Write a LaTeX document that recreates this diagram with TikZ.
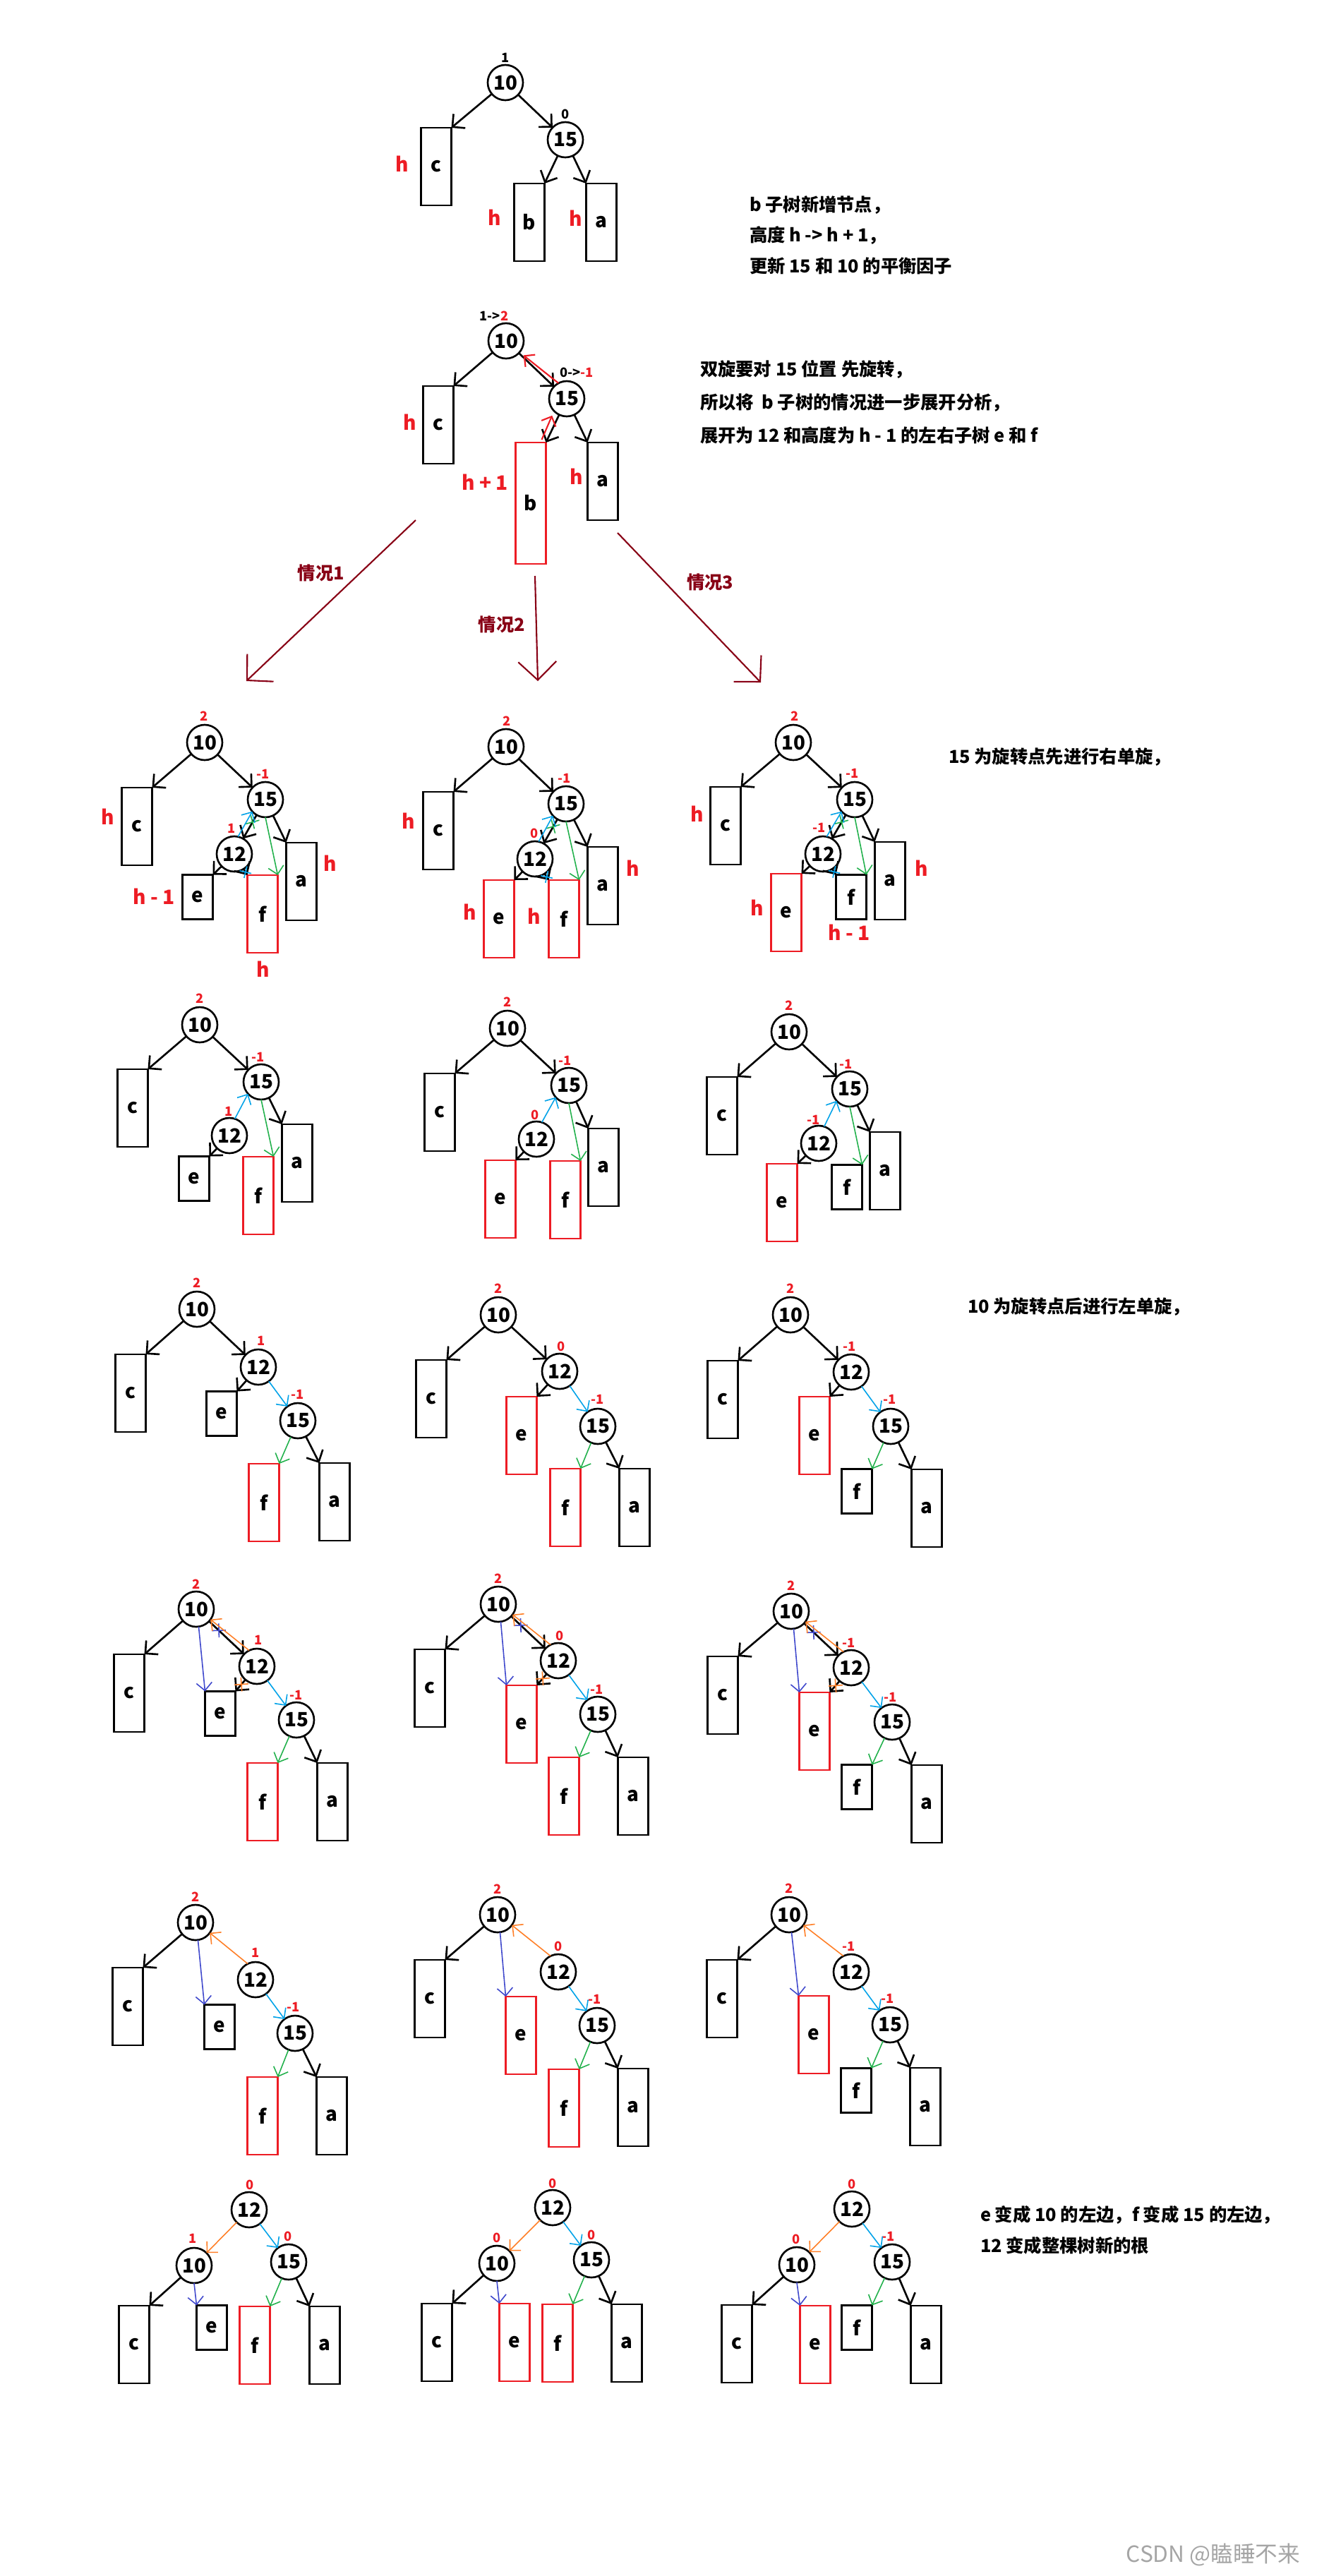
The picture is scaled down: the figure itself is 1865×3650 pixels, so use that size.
\documentclass[tikz,border=0pt]{standalone}
\usepackage{fontspec}
\setmainfont{Noto Sans CJK SC}
\usetikzlibrary{arrows.meta,calc,shapes.misc}

\definecolor{avlred}{RGB}{237,28,36}
\definecolor{avlblue}{RGB}{0,162,232}
\definecolor{avlgreen}{RGB}{34,177,76}
\definecolor{avlorange}{RGB}{255,127,39}
\definecolor{avlindigo}{RGB}{63,72,204}
\definecolor{avlcase}{RGB}{136,0,21}
\definecolor{avlgray}{RGB}{165,165,165}

\begin{document}
\begin{tikzpicture}[
  x=0.1mm,
  y=-0.1mm,
  every node/.style={inner sep=0pt, outer sep=0pt},
  vertex/.style={circle, draw=black, line width=0.75pt, minimum size=5mm, font=\fontsize{7.9}{8}\selectfont\bfseries},
  tallbox/.style={draw=black, line width=0.75pt, minimum width=4.3mm, minimum height=11mm, font=\fontsize{7.9}{8}\selectfont\bfseries},
  shortbox/.style={tallbox, minimum height=6.3mm},
  grown/.style={draw=avlred},
  bfac/.style={font=\fontsize{5.2}{5.5}\selectfont\bfseries, text=avlred},
  hlabel/.style={font=\fontsize{8}{9}\selectfont\bfseries, text=avlred},
  note/.style={font=\fontsize{7.2}{12.4}\selectfont\bfseries, align=left, anchor=west},
  link/.style={draw=black, line width=0.75pt, -{Straight Barb[length=1.3mm, width=2.6mm]}},
  move/.style={line width=0.45pt, -{Straight Barb[length=1.1mm, width=2.2mm]}},
  redmove/.style={move, draw=avlred, line width=0.6pt, shorten >=0.7mm},
  bluemove/.style={move, draw=avlblue},
  greenmove/.style={move, draw=avlgreen},
  orangemove/.style={move, draw=avlorange},
  indigomove/.style={move, draw=avlindigo},
  cutgreen/.style={cross out, draw=avlgreen, line width=0.45pt, minimum size=1.4mm, sloped},
  cutblue/.style={cross out, draw=avlblue, line width=0.45pt, minimum size=1.2mm, sloped},
  cutorange/.style={cross out, draw=avlorange, line width=0.45pt, minimum size=1.4mm, sloped},
  cutindigo/.style={cross out, draw=avlindigo, line width=0.45pt, minimum size=1.4mm, sloped},
  casearrow/.style={draw=avlcase, line width=0.6pt, -{Straight Barb[length=2.6mm, width=5.4mm]}},
  caselabel/.style={font=\fontsize{7.2}{8}\selectfont\bfseries, text=avlcase}
]

  \path[use as bounding box] (0,0) rectangle (1865,3650);

  % Tree 1: b gets a new node
  \node[vertex] (t1-10) at (716,117) {10};
  \node[vertex] (t1-15) at (801,198) {15};
  \node[tallbox] (t1-c) at (618,236) {c};
  \node[tallbox] (t1-b) at (750,315) {b};
  \node[tallbox] (t1-a) at (852,315) {a};
  \node[bfac, text=black] (t1-bf10) at (716,82) {1};
  \node[bfac, text=black] (t1-bf15) at (801,162) {0};
  \node[hlabel] (t1-hc) at (570,232) {h};
  \node[hlabel] (t1-hb) at (701,308) {h};
  \node[hlabel] (t1-ha) at (816,309) {h};
  \draw[link] (t1-10) -- (t1-c.north east);
  \draw[link] (t1-10) -- (t1-15);
  \draw[link] (t1-15) -- (t1-b.north east);
  \draw[link] (t1-15) -- (t1-a.north west);
  \node[note] (t1-note) at (1062,333) {b 子树新增节点，\\高度 h -> h + 1，\\更新 15 和 10 的平衡因子};

  % Tree 2: factors updated
  \node[vertex] (t2-10) at (717,483) {10};
  \node[vertex] (t2-15) at (803,565) {15};
  \node[tallbox] (t2-c) at (621,602) {c};
  \node[tallbox, grown, minimum height=17.2mm] (t2-b) at (752,713) {b};
  \node[tallbox] (t2-a) at (854,682) {a};
  \node[bfac, text=black] (t2-bf10) at (700,448) {1->\textcolor{avlred}{2}};
  \node[bfac, text=black] (t2-bf15) at (817,528) {0->\textcolor{avlred}{-1}};
  \node[hlabel] (t2-hc) at (581,598) {h};
  \node[hlabel] (t2-hb) at (687,683) {h + 1};
  \node[hlabel] (t2-ha) at (817,675) {h};
  \draw[link] (t2-10) -- (t2-c.north east);
  \draw[link] (t2-10) -- (t2-15);
  \draw[link] (t2-15) -- (t2-b.north east);
  \draw[link] (t2-15) -- (t2-a.north west);
  \draw[redmove] (t2-15.118) -- (t2-10.-40);
  \draw[redmove] ($(t2-b.north east)+(-6,-4)$) -- (t2-15.224);
  \node[note, font=\fontsize{7.2}{13.4}\selectfont\bfseries] (t2-note) at (992,570)
    {双旋要对 15 位置 先旋转，\\所以将 \ b 子树的情况进一步展开分析，\\展开为 12 和高度为 h - 1 的左右子树 e 和 f};

  % Three cases
  \coordinate (k1-from) at (589,737);
  \coordinate (k1-to) at (349,965);
  \coordinate (k2-from) at (758,816);
  \coordinate (k2-to) at (762,965);
  \coordinate (k3-from) at (875,755);
  \coordinate (k3-to) at (1078,967);
  \draw[casearrow] (k1-from) -- (k1-to);
  \draw[casearrow] (k2-from) -- (k2-to);
  \draw[casearrow] (k3-from) -- (k3-to);
  \node[caselabel] (k1-label) at (455,812) {情况1};
  \node[caselabel] (k2-label) at (711,885) {情况2};
  \node[caselabel] (k3-label) at (1006,825) {情况3};

  % Row 3, case 1
  \node[vertex] (r3a-10) at (290,1052) {10};
  \node[vertex] (r3a-15) at (376,1133) {15};
  \node[vertex] (r3a-12) at (332,1210) {12};
  \node[tallbox] (r3a-c) at (194,1171) {c};
  \node[shortbox] (r3a-e) at (280,1271) {e};
  \node[tallbox, grown] (r3a-f) at (372,1295) {f};
  \node[tallbox] (r3a-a) at (427,1249) {a};
  \node[bfac] (r3a-bf10) at (289,1015) {2};
  \node[bfac] (r3a-bf15) at (373,1097) {-1};
  \node[bfac] (r3a-bf12) at (328,1174) {1};
  \node[hlabel] (r3a-hc) at (153,1157) {h};
  \node[hlabel] (r3a-he) at (218,1270) {h - 1};
  \node[hlabel] (r3a-hf) at (373,1373) {h};
  \node[hlabel] (r3a-ha) at (468,1223) {h};
  \draw[link] (r3a-10) -- (r3a-c.north east);
  \draw[link] (r3a-10) -- (r3a-15);
  \draw[link] (r3a-15) -- node[pos=.3, cutgreen] (r3a-cut1) {} (r3a-12);
  \draw[link] (r3a-15) -- (r3a-a.north west);
  \draw[link] (r3a-12) -- (r3a-e.north east);
  \draw[link] (r3a-12) -- node[pos=.5, cutblue] (r3a-cut2) {} (r3a-f.north west);
  \draw[bluemove] (r3a-12.78) -- (r3a-15.222);
  \draw[greenmove] (r3a-15.south) -- (r3a-f.north east);

  % Row 3, case 2
  \node[vertex] (r3b-10) at (717,1058) {10};
  \node[vertex] (r3b-15) at (802,1139) {15};
  \node[vertex] (r3b-12) at (758,1217) {12};
  \node[tallbox] (r3b-c) at (621,1177) {c};
  \node[tallbox, grown] (r3b-e) at (707,1302) {e};
  \node[tallbox, grown] (r3b-f) at (799,1302) {f};
  \node[tallbox] (r3b-a) at (854,1255) {a};
  \node[bfac] (r3b-bf10) at (718,1022) {2};
  \node[bfac] (r3b-bf15) at (800,1103) {-1};
  \node[bfac] (r3b-bf12) at (757,1181) {0};
  \node[hlabel] (r3b-hc) at (579,1163) {h};
  \node[hlabel] (r3b-he) at (666,1292) {h};
  \node[hlabel] (r3b-hf) at (757,1298) {h};
  \node[hlabel] (r3b-ha) at (897,1230) {h};
  \draw[link] (r3b-10) -- (r3b-c.north east);
  \draw[link] (r3b-10) -- (r3b-15);
  \draw[link] (r3b-15) -- node[pos=.3, cutgreen] (r3b-cut1) {} (r3b-12);
  \draw[link] (r3b-15) -- (r3b-a.north west);
  \draw[link] (r3b-12) -- (r3b-e.north east);
  \draw[link] (r3b-12) -- node[pos=.5, cutblue] (r3b-cut2) {} (r3b-f.north west);
  \draw[bluemove] (r3b-12.78) -- (r3b-15.222);
  \draw[greenmove] (r3b-15.south) -- (r3b-f.north east);

  % Row 3, case 3
  \node[vertex] (r3c-10) at (1124,1052) {10};
  \node[vertex] (r3c-15) at (1211,1133) {15};
  \node[vertex] (r3c-12) at (1166,1210) {12};
  \node[tallbox] (r3c-c) at (1028,1170) {c};
  \node[tallbox, grown] (r3c-e) at (1114,1293) {e};
  \node[shortbox] (r3c-f) at (1206,1271) {f};
  \node[tallbox] (r3c-a) at (1261,1248) {a};
  \node[bfac] (r3c-bf10) at (1126,1015) {2};
  \node[bfac] (r3c-bf15) at (1208,1096) {-1};
  \node[bfac] (r3c-bf12) at (1161,1173) {-1};
  \node[hlabel] (r3c-hc) at (988,1153) {h};
  \node[hlabel] (r3c-he) at (1073,1286) {h};
  \node[hlabel] (r3c-hf) at (1203,1321) {h - 1};
  \node[hlabel] (r3c-ha) at (1306,1230) {h};
  \draw[link] (r3c-10) -- (r3c-c.north east);
  \draw[link] (r3c-10) -- (r3c-15);
  \draw[link] (r3c-15) -- node[pos=.3, cutgreen] (r3c-cut1) {} (r3c-12);
  \draw[link] (r3c-15) -- (r3c-a.north west);
  \draw[link] (r3c-12) -- (r3c-e.north east);
  \draw[link] (r3c-12) -- node[pos=.5, cutblue] (r3c-cut2) {} (r3c-f.north west);
  \draw[bluemove] (r3c-12.78) -- (r3c-15.222);
  \draw[greenmove] (r3c-15.south) -- (r3c-f.north east);
  \node[note] (r3-note) at (1344,1073) {15 为旋转点先进行右单旋，};

  % Row 4, case 1
  \node[vertex] (r4a-10) at (283,1452) {10};
  \node[vertex] (r4a-15) at (370,1533) {15};
  \node[vertex] (r4a-12) at (325,1609) {12};
  \node[tallbox] (r4a-c) at (188,1570) {c};
  \node[shortbox] (r4a-e) at (275,1670) {e};
  \node[tallbox, grown] (r4a-f) at (366,1694) {f};
  \node[tallbox] (r4a-a) at (421,1648) {a};
  \node[bfac] (r4a-bf10) at (283,1415) {2};
  \node[bfac] (r4a-bf15) at (366,1498) {-1};
  \node[bfac] (r4a-bf12) at (324,1575) {1};
  \draw[link] (r4a-10) -- (r4a-c.north east);
  \draw[link] (r4a-10) -- (r4a-15);
  \draw[link] (r4a-15) -- (r4a-a.north west);
  \draw[link] (r4a-12) -- (r4a-e.north east);
  \draw[bluemove] (r4a-12.72) -- (r4a-15.222);
  \draw[greenmove] (r4a-15.south) -- (r4a-f.north east);

  % Row 4, case 2
  \node[vertex] (r4b-10) at (719,1457) {10};
  \node[vertex] (r4b-15) at (806,1538) {15};
  \node[vertex] (r4b-12) at (760,1614) {12};
  \node[tallbox] (r4b-c) at (623,1576) {c};
  \node[tallbox, grown] (r4b-e) at (709,1699) {e};
  \node[tallbox, grown] (r4b-f) at (801,1700) {f};
  \node[tallbox] (r4b-a) at (855,1654) {a};
  \node[bfac] (r4b-bf10) at (719,1420) {2};
  \node[bfac] (r4b-bf15) at (801,1503) {-1};
  \node[bfac] (r4b-bf12) at (758,1580) {0};
  \draw[link] (r4b-10) -- (r4b-c.north east);
  \draw[link] (r4b-10) -- (r4b-15);
  \draw[link] (r4b-15) -- (r4b-a.north west);
  \draw[link] (r4b-12) -- (r4b-e.north east);
  \draw[bluemove] (r4b-12.72) -- (r4b-15.222);
  \draw[greenmove] (r4b-15.south) -- (r4b-f.north east);

  % Row 4, case 3
  \node[vertex] (r4c-10) at (1118,1462) {10};
  \node[vertex] (r4c-15) at (1204,1543) {15};
  \node[vertex] (r4c-12) at (1160,1620) {12};
  \node[tallbox] (r4c-c) at (1023,1581) {c};
  \node[tallbox, grown] (r4c-e) at (1108,1704) {e};
  \node[shortbox] (r4c-f) at (1200,1682) {f};
  \node[tallbox] (r4c-a) at (1254,1659) {a};
  \node[bfac] (r4c-bf10) at (1118,1425) {2};
  \node[bfac] (r4c-bf15) at (1199,1508) {-1};
  \node[bfac] (r4c-bf12) at (1153,1587) {-1};
  \draw[link] (r4c-10) -- (r4c-c.north east);
  \draw[link] (r4c-10) -- (r4c-15);
  \draw[link] (r4c-15) -- (r4c-a.north west);
  \draw[link] (r4c-12) -- (r4c-e.north east);
  \draw[bluemove] (r4c-12.72) -- (r4c-15.222);
  \draw[greenmove] (r4c-15.south) -- (r4c-f.north east);

  % Row 5, case 1
  \node[vertex] (r5a-10) at (279,1855) {10};
  \node[vertex] (r5a-12) at (366,1937) {12};
  \node[vertex] (r5a-15) at (422,2013) {15};
  \node[tallbox] (r5a-c) at (185,1974) {c};
  \node[shortbox] (r5a-e) at (314,2003) {e};
  \node[tallbox, grown] (r5a-f) at (374,2129) {f};
  \node[tallbox] (r5a-a) at (474,2128) {a};
  \node[bfac] (r5a-bf10) at (279,1818) {2};
  \node[bfac] (r5a-bf12) at (370,1900) {1};
  \node[bfac] (r5a-bf15) at (422,1976) {-1};
  \draw[link] (r5a-10) -- (r5a-c.north east);
  \draw[link] (r5a-10) -- (r5a-12);
  \draw[link] (r5a-12) -- (r5a-e.north east);
  \draw[bluemove] (r5a-12) -- (r5a-15);
  \draw[greenmove] (r5a-15) -- (r5a-f.north east);
  \draw[link] (r5a-15) -- (r5a-a.north west);

  % Row 5, case 2
  \node[vertex] (r5b-10) at (706,1863) {10};
  \node[vertex] (r5b-12) at (793,1943) {12};
  \node[vertex] (r5b-15) at (847,2021) {15};
  \node[tallbox] (r5b-c) at (611,1982) {c};
  \node[tallbox, grown] (r5b-e) at (739,2034) {e};
  \node[tallbox, grown] (r5b-f) at (801,2136) {f};
  \node[tallbox] (r5b-a) at (899,2136) {a};
  \node[bfac] (r5b-bf10) at (706,1826) {2};
  \node[bfac] (r5b-bf12) at (795,1908) {0};
  \node[bfac] (r5b-bf15) at (847,1983) {-1};
  \draw[link] (r5b-10) -- (r5b-c.north east);
  \draw[link] (r5b-10) -- (r5b-12);
  \draw[link] (r5b-12) -- (r5b-e.north east);
  \draw[bluemove] (r5b-12) -- (r5b-15);
  \draw[greenmove] (r5b-15) -- (r5b-f.north east);
  \draw[link] (r5b-15) -- (r5b-a.north west);

  % Row 5, case 3
  \node[vertex] (r5c-10) at (1120,1863) {10};
  \node[vertex] (r5c-12) at (1206,1944) {12};
  \node[vertex] (r5c-15) at (1262,2021) {15};
  \node[tallbox] (r5c-c) at (1024,1983) {c};
  \node[tallbox, grown] (r5c-e) at (1154,2034) {e};
  \node[shortbox] (r5c-f) at (1214,2113) {f};
  \node[tallbox] (r5c-a) at (1313,2137) {a};
  \node[bfac] (r5c-bf10) at (1120,1826) {2};
  \node[bfac] (r5c-bf12) at (1204,1908) {-1};
  \node[bfac] (r5c-bf15) at (1261,1983) {-1};
  \draw[link] (r5c-10) -- (r5c-c.north east);
  \draw[link] (r5c-10) -- (r5c-12);
  \draw[link] (r5c-12) -- (r5c-e.north east);
  \draw[bluemove] (r5c-12) -- (r5c-15);
  \draw[greenmove] (r5c-15) -- (r5c-f.north east);
  \draw[link] (r5c-15) -- (r5c-a.north west);
  \node[note] (r5-note) at (1371,1852) {10 为旋转点后进行左单旋，};

  % Row 6, case 1
  \node[vertex] (r6a-10) at (278,2280) {10};
  \node[vertex] (r6a-12) at (364,2361) {12};
  \node[vertex] (r6a-15) at (420,2437) {15};
  \node[tallbox] (r6a-c) at (183,2399) {c};
  \node[shortbox] (r6a-e) at (312,2428) {e};
  \node[tallbox, grown] (r6a-f) at (372,2553) {f};
  \node[tallbox] (r6a-a) at (471,2553) {a};
  \node[bfac] (r6a-bf10) at (278,2245) {2};
  \node[bfac] (r6a-bf12) at (366,2324) {1};
  \node[bfac] (r6a-bf15) at (420,2402) {-1};
  \draw[link] (r6a-10) -- (r6a-c.north east);
  \draw[link] (r6a-10) -- node[pos=.28, cutindigo] (r6a-cut1) {} (r6a-12);
  \draw[link] (r6a-12) -- node[pos=.4, cutorange] (r6a-cut2) {} (r6a-e.north east);
  \draw[indigomove] (r6a-10.-82) -- (r6a-e.north west);
  \draw[orangemove] (r6a-12.116) -- (r6a-10.-36);
  \draw[bluemove] (r6a-12) -- (r6a-15);
  \draw[greenmove] (r6a-15) -- (r6a-f.north east);
  \draw[link] (r6a-15) -- (r6a-a.north west);

  % Row 6, case 2
  \node[vertex] (r6b-10) at (706,2273) {10};
  \node[vertex] (r6b-12) at (791,2353) {12};
  \node[vertex] (r6b-15) at (847,2429) {15};
  \node[tallbox] (r6b-c) at (609,2392) {c};
  \node[tallbox, grown] (r6b-e) at (739,2443) {e};
  \node[tallbox, grown] (r6b-f) at (799,2545) {f};
  \node[tallbox] (r6b-a) at (897,2545) {a};
  \node[bfac] (r6b-bf10) at (706,2237) {2};
  \node[bfac] (r6b-bf12) at (793,2318) {0};
  \node[bfac] (r6b-bf15) at (846,2394) {-1};
  \draw[link] (r6b-10) -- (r6b-c.north east);
  \draw[link] (r6b-10) -- node[pos=.28, cutindigo] (r6b-cut1) {} (r6b-12);
  \draw[link] (r6b-12) -- node[pos=.4, cutorange] (r6b-cut2) {} (r6b-e.north east);
  \draw[indigomove] (r6b-10.-82) -- (r6b-e.north west);
  \draw[orangemove] (r6b-12.116) -- (r6b-10.-36);
  \draw[bluemove] (r6b-12) -- (r6b-15);
  \draw[greenmove] (r6b-15) -- (r6b-f.north east);
  \draw[link] (r6b-15) -- (r6b-a.north west);

  % Row 6, case 3
  \node[vertex] (r6c-10) at (1121,2283) {10};
  \node[vertex] (r6c-12) at (1206,2363) {12};
  \node[vertex] (r6c-15) at (1264,2440) {15};
  \node[tallbox] (r6c-c) at (1024,2402) {c};
  \node[tallbox, grown] (r6c-e) at (1154,2453) {e};
  \node[shortbox] (r6c-f) at (1214,2532) {f};
  \node[tallbox] (r6c-a) at (1313,2556) {a};
  \node[bfac] (r6c-bf10) at (1121,2247) {2};
  \node[bfac] (r6c-bf12) at (1203,2328) {-1};
  \node[bfac] (r6c-bf15) at (1262,2405) {-1};
  \draw[link] (r6c-10) -- (r6c-c.north east);
  \draw[link] (r6c-10) -- node[pos=.28, cutindigo] (r6c-cut1) {} (r6c-12);
  \draw[link] (r6c-12) -- node[pos=.4, cutorange] (r6c-cut2) {} (r6c-e.north east);
  \draw[indigomove] (r6c-10.-82) -- (r6c-e.north west);
  \draw[orangemove] (r6c-12.116) -- (r6c-10.-36);
  \draw[bluemove] (r6c-12) -- (r6c-15);
  \draw[greenmove] (r6c-15) -- (r6c-f.north east);
  \draw[link] (r6c-15) -- (r6c-a.north west);

  % Row 7, case 1
  \node[vertex] (r7a-10) at (277,2724) {10};
  \node[vertex] (r7a-12) at (362,2805) {12};
  \node[vertex] (r7a-15) at (418,2881) {15};
  \node[tallbox] (r7a-c) at (181,2843) {c};
  \node[shortbox] (r7a-e) at (311,2872) {e};
  \node[tallbox, grown] (r7a-f) at (372,2998) {f};
  \node[tallbox] (r7a-a) at (470,2998) {a};
  \node[bfac] (r7a-bf10) at (277,2688) {2};
  \node[bfac] (r7a-bf12) at (362,2767) {1};
  \node[bfac] (r7a-bf15) at (416,2844) {-1};
  \draw[link] (r7a-10) -- (r7a-c.north east);
  \draw[indigomove] (r7a-10.-82) -- (r7a-e.north west);
  \draw[orangemove] (r7a-12.116) -- (r7a-10.-36);
  \draw[bluemove] (r7a-12) -- (r7a-15);
  \draw[greenmove] (r7a-15) -- (r7a-f.north east);
  \draw[link] (r7a-15) -- (r7a-a.north west);

  % Row 7, case 2
  \node[vertex] (r7b-10) at (705,2713) {10};
  \node[vertex] (r7b-12) at (791,2794) {12};
  \node[vertex] (r7b-15) at (846,2870) {15};
  \node[tallbox] (r7b-c) at (609,2832) {c};
  \node[tallbox, grown] (r7b-e) at (738,2884) {e};
  \node[tallbox, grown] (r7b-f) at (799,2987) {f};
  \node[tallbox] (r7b-a) at (897,2986) {a};
  \node[bfac] (r7b-bf10) at (705,2677) {2};
  \node[bfac] (r7b-bf12) at (791,2758) {0};
  \node[bfac] (r7b-bf15) at (843,2833) {-1};
  \draw[link] (r7b-10) -- (r7b-c.north east);
  \draw[indigomove] (r7b-10.-82) -- (r7b-e.north west);
  \draw[orangemove] (r7b-12.116) -- (r7b-10.-36);
  \draw[bluemove] (r7b-12) -- (r7b-15);
  \draw[greenmove] (r7b-15) -- (r7b-f.north east);
  \draw[link] (r7b-15) -- (r7b-a.north west);

  % Row 7, case 3
  \node[vertex] (r7c-10) at (1118,2713) {10};
  \node[vertex] (r7c-12) at (1206,2794) {12};
  \node[vertex] (r7c-15) at (1261,2869) {15};
  \node[tallbox] (r7c-c) at (1023,2832) {c};
  \node[tallbox, grown] (r7c-e) at (1153,2883) {e};
  \node[shortbox] (r7c-f) at (1213,2962) {f};
  \node[tallbox] (r7c-a) at (1311,2985) {a};
  \node[bfac] (r7c-bf10) at (1118,2676) {2};
  \node[bfac] (r7c-bf12) at (1203,2758) {-1};
  \node[bfac] (r7c-bf15) at (1258,2832) {-1};
  \draw[link] (r7c-10) -- (r7c-c.north east);
  \draw[indigomove] (r7c-10.-82) -- (r7c-e.north west);
  \draw[orangemove] (r7c-12.116) -- (r7c-10.-36);
  \draw[bluemove] (r7c-12) -- (r7c-15);
  \draw[greenmove] (r7c-15) -- (r7c-f.north east);
  \draw[link] (r7c-15) -- (r7c-a.north west);

  % Row 8, case 1
  \node[vertex] (r8a-12) at (353,3131) {12};
  \node[vertex] (r8a-10) at (275,3210) {10};
  \node[vertex] (r8a-15) at (409,3205) {15};
  \node[tallbox] (r8a-c) at (190,3322) {c};
  \node[shortbox] (r8a-e) at (300,3298) {e};
  \node[tallbox, grown] (r8a-f) at (361,3323) {f};
  \node[tallbox] (r8a-a) at (460,3323) {a};
  \node[bfac] (r8a-bf12) at (354,3096) {0};
  \node[bfac] (r8a-bf10) at (273,3172) {1};
  \node[bfac] (r8a-bf15) at (408,3169) {0};
  \draw[orangemove] (r8a-12) -- (r8a-10);
  \draw[bluemove] (r8a-12) -- (r8a-15);
  \draw[link] (r8a-10) -- (r8a-c.north east);
  \draw[indigomove] (r8a-10.south) -- (r8a-e.north west);
  \draw[greenmove] (r8a-15) -- (r8a-f.north east);
  \draw[link] (r8a-15) -- (r8a-a.north west);

  % Row 8, case 2
  \node[vertex] (r8b-12) at (783,3128) {12};
  \node[vertex] (r8b-10) at (704,3207) {10};
  \node[vertex] (r8b-15) at (838,3202) {15};
  \node[tallbox] (r8b-c) at (619,3319) {c};
  \node[tallbox, grown] (r8b-e) at (729,3319) {e};
  \node[tallbox, grown] (r8b-f) at (790,3320) {f};
  \node[tallbox] (r8b-a) at (888,3320) {a};
  \node[bfac] (r8b-bf12) at (783,3094) {0};
  \node[bfac] (r8b-bf10) at (704,3171) {0};
  \node[bfac] (r8b-bf15) at (838,3167) {0};
  \draw[orangemove] (r8b-12) -- (r8b-10);
  \draw[bluemove] (r8b-12) -- (r8b-15);
  \draw[link] (r8b-10) -- (r8b-c.north east);
  \draw[indigomove] (r8b-10.south) -- (r8b-e.north west);
  \draw[greenmove] (r8b-15) -- (r8b-f.north east);
  \draw[link] (r8b-15) -- (r8b-a.north west);

  % Row 8, case 3
  \node[vertex] (r8c-12) at (1207,3130) {12};
  \node[vertex] (r8c-10) at (1129,3209) {10};
  \node[vertex] (r8c-15) at (1264,3205) {15};
  \node[tallbox] (r8c-c) at (1044,3321) {c};
  \node[tallbox, grown] (r8c-e) at (1155,3322) {e};
  \node[shortbox] (r8c-f) at (1214,3298) {f};
  \node[tallbox] (r8c-a) at (1312,3322) {a};
  \node[bfac] (r8c-bf12) at (1207,3095) {0};
  \node[bfac] (r8c-bf10) at (1128,3173) {0};
  \node[bfac] (r8c-bf15) at (1259,3169) {-1};
  \draw[orangemove] (r8c-12) -- (r8c-10);
  \draw[bluemove] (r8c-12) -- (r8c-15);
  \draw[link] (r8c-10) -- (r8c-c.north east);
  \draw[indigomove] (r8c-10.south) -- (r8c-e.north west);
  \draw[greenmove] (r8c-15) -- (r8c-f.north east);
  \draw[link] (r8c-15) -- (r8c-a.north west);
  \node[note, font=\fontsize{7.2}{12.5}\selectfont\bfseries] (r8-note) at (1389,3160)
    {e 变成 10 的左边，f 变成 15 的左边，\\12 变成整棵树新的根};

  % Watermark
  \node[anchor=east, font=\fontsize{9}{10}\selectfont, text=avlgray] (mark) at (1842,3620) {CSDN @瞌睡不来};

\end{tikzpicture}
\end{document}
